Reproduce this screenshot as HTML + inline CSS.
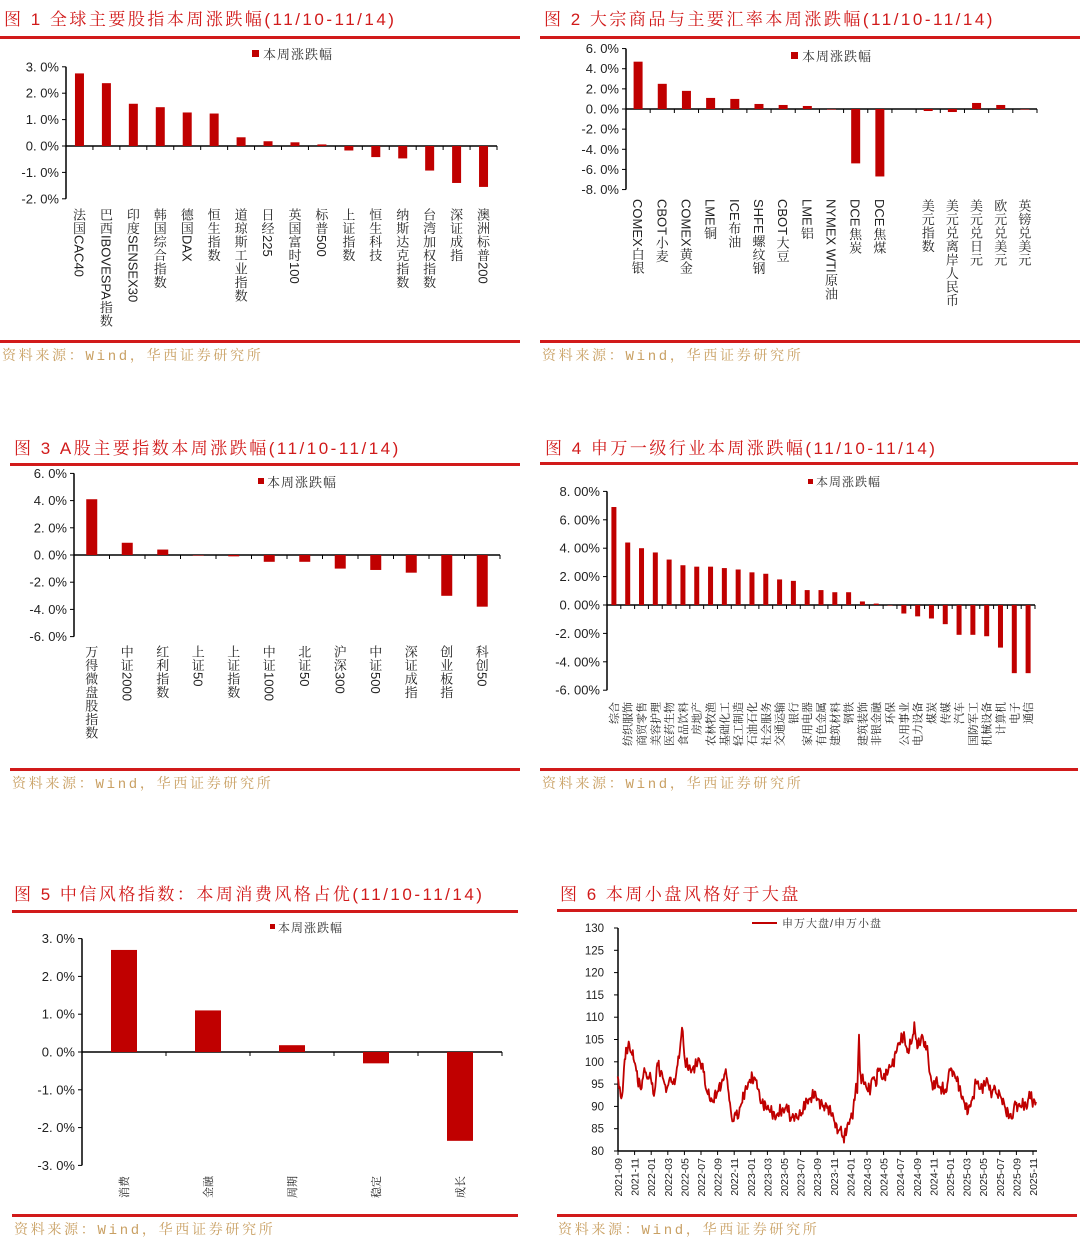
<!DOCTYPE html>
<html><head><meta charset="utf-8">
<style>
html,body{margin:0;padding:0;background:#fff;}
#w{position:relative;width:1080px;height:1243px;overflow:hidden;font-family:"Liberation Sans","Noto Sans CJK SC",sans-serif;}
svg{position:absolute;left:0;top:0;}
</style></head><body>
<div id="w">
<svg id="s" width="1080" height="1243" xmlns="http://www.w3.org/2000/svg" font-family="Liberation Sans, Noto Sans CJK SC, sans-serif">
<g font-family="Liberation Sans, Noto Serif CJK SC, serif" fill="#d11a1a" font-size="17" letter-spacing="2.5">
<text x="4" y="25">图 1 全球主要股指本周涨跌幅(11/10-11/14)</text>
<text x="544" y="25">图 2 大宗商品与主要汇率本周涨跌幅(11/10-11/14)</text>
<text x="14" y="454">图 3 A股主要指数本周涨跌幅(11/10-11/14)</text>
<text x="545" y="454">图 4 申万一级行业本周涨跌幅(11/10-11/14)</text>
<text x="14" y="900">图 5 中信风格指数：本周消费风格占优(11/10-11/14)</text>
<text x="560" y="900">图 6 本周小盘风格好于大盘</text>
</g>
<g fill="#d11a1a">
<rect x="0" y="36" width="520" height="3"/><rect x="540" y="36" width="540" height="3"/>
<rect x="0" y="340" width="520" height="3"/><rect x="540" y="340" width="540" height="3"/>
<rect x="10" y="463" width="510" height="3"/><rect x="540" y="462" width="538" height="3"/>
<rect x="10" y="768" width="510" height="3"/><rect x="540" y="768" width="538" height="3"/>
<rect x="12" y="910" width="506" height="3"/><rect x="557" y="909" width="520" height="3"/>
<rect x="12" y="1214" width="506" height="3"/><rect x="557" y="1214" width="520" height="3"/>
</g>
<g font-family="Liberation Mono, Noto Serif CJK SC, serif" fill="#c9a063" font-size="14" letter-spacing="2.7">
<text x="2" y="360">资料来源：Wind，华西证券研究所</text>
<text x="542" y="360">资料来源：Wind，华西证券研究所</text>
<text x="12" y="788">资料来源：Wind，华西证券研究所</text>
<text x="542" y="788">资料来源：Wind，华西证券研究所</text>
<text x="14" y="1234">资料来源：Wind，华西证券研究所</text>
<text x="558" y="1234">资料来源：Wind，华西证券研究所</text>
</g>
<g font-size="13" fill="#333" font-family="Liberation Sans, Noto Serif CJK SC, serif" letter-spacing="1">
<rect x="252" y="50" width="7" height="7" fill="#c00000"/><text x="263" y="59">本周涨跌幅</text>
<rect x="791" y="52" width="7" height="7" fill="#c00000"/><text x="802" y="61">本周涨跌幅</text>
<rect x="258" y="478" width="6" height="6" fill="#c00000"/><text x="267" y="487">本周涨跌幅</text>
<rect x="808" y="479" width="5" height="5" fill="#c00000"/><text x="816" y="486" font-size="12">本周涨跌幅</text>
<rect x="270" y="924" width="5" height="5" fill="#c00000"/><text x="278" y="932" font-size="12">本周涨跌幅</text>
<rect x="752" y="922" width="25" height="2" fill="#c00000"/><text x="782" y="927" font-size="11">申万大盘/申万小盘</text>
</g>
</svg>
</div>
<script>
const S=document.getElementById('s'),NS='http://www.w3.org/2000/svg';
function el(t,a,txt){const e=document.createElementNS(NS,t);for(const k in a)e.setAttribute(k,a[k]);if(txt!=null)e.textContent=txt;S.appendChild(e);return e;}
function fmt(v,d){let s=Math.abs(v).toFixed(d);s=s.replace('.','. ');return (v<0?'-':'')+s+'%';}
function vlabel(c,y,lab,fs){
 const runs=lab.match(/[\x20-\x7e]+|[^\x20-\x7e]/g)||[];
 const ff='Liberation Sans, Noto Serif CJK SC, serif';
 runs.forEach(r=>{
  if(/^[\x20-\x7e]+$/.test(r)){
   const t=el('text',{transform:`translate(${c-fs*0.38},${y}) rotate(90)`,'font-size':fs,fill:'#222','font-family':'Liberation Sans, sans-serif'},r.trim());
   let L=r.trim().length*fs*0.62;try{L=t.getComputedTextLength();}catch(e){}
   y+=L+1;
  }else{
   el('text',{x:c,y:y+fs*0.88,'text-anchor':'middle','font-size':fs,fill:'#222','font-family':ff},r);
   y+=fs+0.5;
  }});
}
function bar(o){
 const n=o.vals.length,w=(o.x1-o.x0)/n,k=o.k;
 el('line',{x1:o.x0,y1:o.zy-o.tmax*k,x2:o.x0,y2:o.zy-o.tmin*k,stroke:'#000','stroke-width':1.5});
 for(let v=o.tmin;v<=o.tmax+1e-9;v+=o.step){const y=o.zy-v*k;
  el('line',{x1:o.x0-4,y1:y,x2:o.x0,y2:y,stroke:'#000'});
  el('text',{x:o.x0-7,y:y+4.5,'text-anchor':'end','font-size':o.fs||13,fill:'#222'},fmt(v,o.dec||1));}
 el('line',{x1:o.x0,y1:o.zy,x2:o.x1,y2:o.zy,stroke:'#000','stroke-width':1.5});
 for(let i=1;i<=n;i++){const x=o.x0+i*w;el('line',{x1:x,y1:o.zy,x2:x,y2:o.zy+4,stroke:'#000'});}
 o.vals.forEach((v,i)=>{const c=o.x0+(i+0.5)*w;
  if(v!=null){const h=Math.abs(v)*k;
  el('rect',{x:c-o.bw/2,y:v>0?o.zy-h:o.zy,width:o.bw,height:Math.max(h,0.5),fill:'#c00000'});}
  const lab=o.labs[i];if(!lab)return;
  if(o.rot){el('text',{transform:`translate(${c+4},${o.ly}) rotate(-90)`,'text-anchor':'end','font-size':o.lfs,fill:'#222','font-family':'Liberation Sans, Noto Serif CJK SC, serif'},lab);}
  else vlabel(c,o.ly,lab,o.lfs);
 });
}
bar({x0:66,x1:497,zy:146,k:26.4,tmin:-2,tmax:3,step:1,bw:9,ly:208,lfs:13,
 vals:[2.75,2.38,1.6,1.47,1.27,1.23,0.33,0.18,0.14,0.06,-0.17,-0.42,-0.47,-0.93,-1.4,-1.55],
 labs:['法国CAC40','巴西IBOVESPA指数','印度SENSEX30','韩国综合指数','德国DAX','恒生指数','道琼斯工业指数','日经225','英国富时100','标普500','上证指数','恒生科技','纳斯达克指数','台湾加权指数','深证成指','澳洲标普200']});
bar({x0:626,x1:1037,zy:109,k:10.07,tmin:-8,tmax:6,step:2,bw:9,ly:199,lfs:13,
 vals:[4.7,2.5,1.8,1.1,1.0,0.5,0.4,0.3,0,-5.4,-6.7,null,-0.2,-0.3,0.6,0.4,0],
 labs:['COMEX白银','CBOT小麦','COMEX黄金','LME铜','ICE布油','SHFE螺纹钢','CBOT大豆','LME铝','NYMEX WTI原油','DCE焦炭','DCE焦煤','','美元指数','美元兑离岸人民币','美元兑日元','欧元兑美元','英镑兑美元']});
bar({x0:74,x1:500,zy:555,k:13.6,tmin:-6,tmax:6,step:2,bw:11,ly:645,lfs:13,
 vals:[4.1,0.9,0.4,0,-0.1,-0.5,-0.5,-1.0,-1.1,-1.3,-3.0,-3.8],
 labs:['万得微盘股指数','中证2000','红利指数','上证50','上证指数','中证1000','北证50','沪深300','中证500','深证成指','创业板指','科创50']});
bar({x0:607,x1:1035,zy:605,k:14.2,tmin:-6,tmax:8,step:2,dec:2,bw:5,ly:702,lfs:11,rot:true,
 vals:[6.9,4.4,4.0,3.7,3.2,2.8,2.7,2.7,2.6,2.5,2.3,2.2,1.8,1.7,1.05,1.05,0.9,0.9,0.25,0.1,0,-0.6,-0.8,-0.95,-1.35,-2.1,-2.1,-2.2,-3.0,-4.8,-4.8],
 labs:['综合','纺织服饰','商贸零售','美容护理','医药生物','食品饮料','房地产','农林牧渔','基础化工','轻工制造','石油石化','社会服务','交通运输','银行','家用电器','有色金属','建筑材料','钢铁','建筑装饰','非银金融','环保','公用事业','电力设备','煤炭','传媒','汽车','国防军工','机械设备','计算机','电子','通信']});
bar({x0:82,x1:502,zy:1052,k:37.8,tmin:-3,tmax:3,step:1,bw:26,ly:1176,lfs:11,rot:true,
 vals:[2.7,1.1,0.18,-0.3,-2.35],labs:['消费','金融','周期','稳定','成长']});
(function(){
 const x0=618,zy=v=>928+(130-v)*4.46;
 el('line',{x1:x0,y1:928,x2:x0,y2:1151,stroke:'#000','stroke-width':1.5});
 el('line',{x1:x0,y1:1151,x2:1037,y2:1151,stroke:'#000','stroke-width':1.5});
 for(let v=80;v<=130;v+=5){const y=zy(v);el('line',{x1:x0-4,y1:y,x2:x0,y2:y,stroke:'#000'});
  el('text',{x:x0-14,y:y+4,'text-anchor':'end','font-size':11.5,fill:'#222'},v);}
 let m=9,yr=2021;
 for(let i=0;i<26;i++){const x=x0+i*16.6;el('line',{x1:x,y1:1151,x2:x,y2:1155,stroke:'#000'});
  el('text',{transform:`translate(${x+4},1158) rotate(-90)`,'text-anchor':'end','font-size':10.5,fill:'#222'},yr+'-'+String(m).padStart(2,'0'));
  m+=2;if(m>12){m-=12;yr++;}}
 const kp=[203,97,207,94,212,92,218,93,224,101,236,104,244,102,255,100,263,96,275,94,283,99,290,96,298,97,305,95,312,93,316,94,322,100.5,328,98,338,97,346,94,355,95,362,96,372,95,385,100,396,107.5,405,100,415,99,425,98,435,99,447,100.5,458,99,465,95,478,92,488,91,498,93,507,94,515,95,525,97.5,532,96,540,90,547,87,556,88,565,88,575,91,585,93.5,595,95,605,96.5,613,96,622,95,632,91,648,90,662,89,678,87.5,690,89,700,89,712,90,722,87,735,88,745,87.5,758,89,768,91,780,91.5,794,93,800,92,812,90.5,825,90,836,89.5,848,88,860,85,873,84.5,882,83,890,85,900,87,910,89,918,95,922,93,927,106.5,930,97,940,96,950,94,962,94,968,97,978,95,986,99,998,96,1010,97.5,1020,99,1030,99.5,1040,103,1050,104.5,1062,106,1072,102,1082,104,1093,107.5,1100,104,1108,104,1118,106,1124,103,1130,104,1140,97,1150,94,1160,96,1168,94,1178,94,1188,93,1196,97,1203,99,1212,97,1222,96,1232,93,1242,91,1254,89,1264,91,1270,92,1278,96,1290,94,1300,94.5,1312,96,1322,93,1335,94,1342,93,1355,92,1368,89,1378,88,1386,87.5,1395,90.5,1408,90,1420,90.5,1432,90,1438,93,1448,91,1458,91];
 let pts=[];
 for(let j=0;j<kp.length-2;j+=2){const xa=550+kp[j]/3,xb=550+kp[j+2]/3,va=kp[j+1],vb=kp[j+3];
  const st=Math.max(1,Math.round((xb-xa)/0.7));
  for(let s=0;s<st;s++){const t=s/st,x=xa+(xb-xa)*t;let v=va+(vb-va)*t;
   v+=0.7*Math.sin(x*7.3)+0.5*Math.sin(x*2.9+1)+0.3*Math.sin(x*13.1);
   pts.push(x.toFixed(1)+','+zy(v).toFixed(1));}}
 pts.push((550+1458/3).toFixed(1)+','+zy(91).toFixed(1));
 el('polyline',{points:pts.join(' '),fill:'none',stroke:'#c00000','stroke-width':1.8,'stroke-linejoin':'round'});
})();
</script>
</body></html>
